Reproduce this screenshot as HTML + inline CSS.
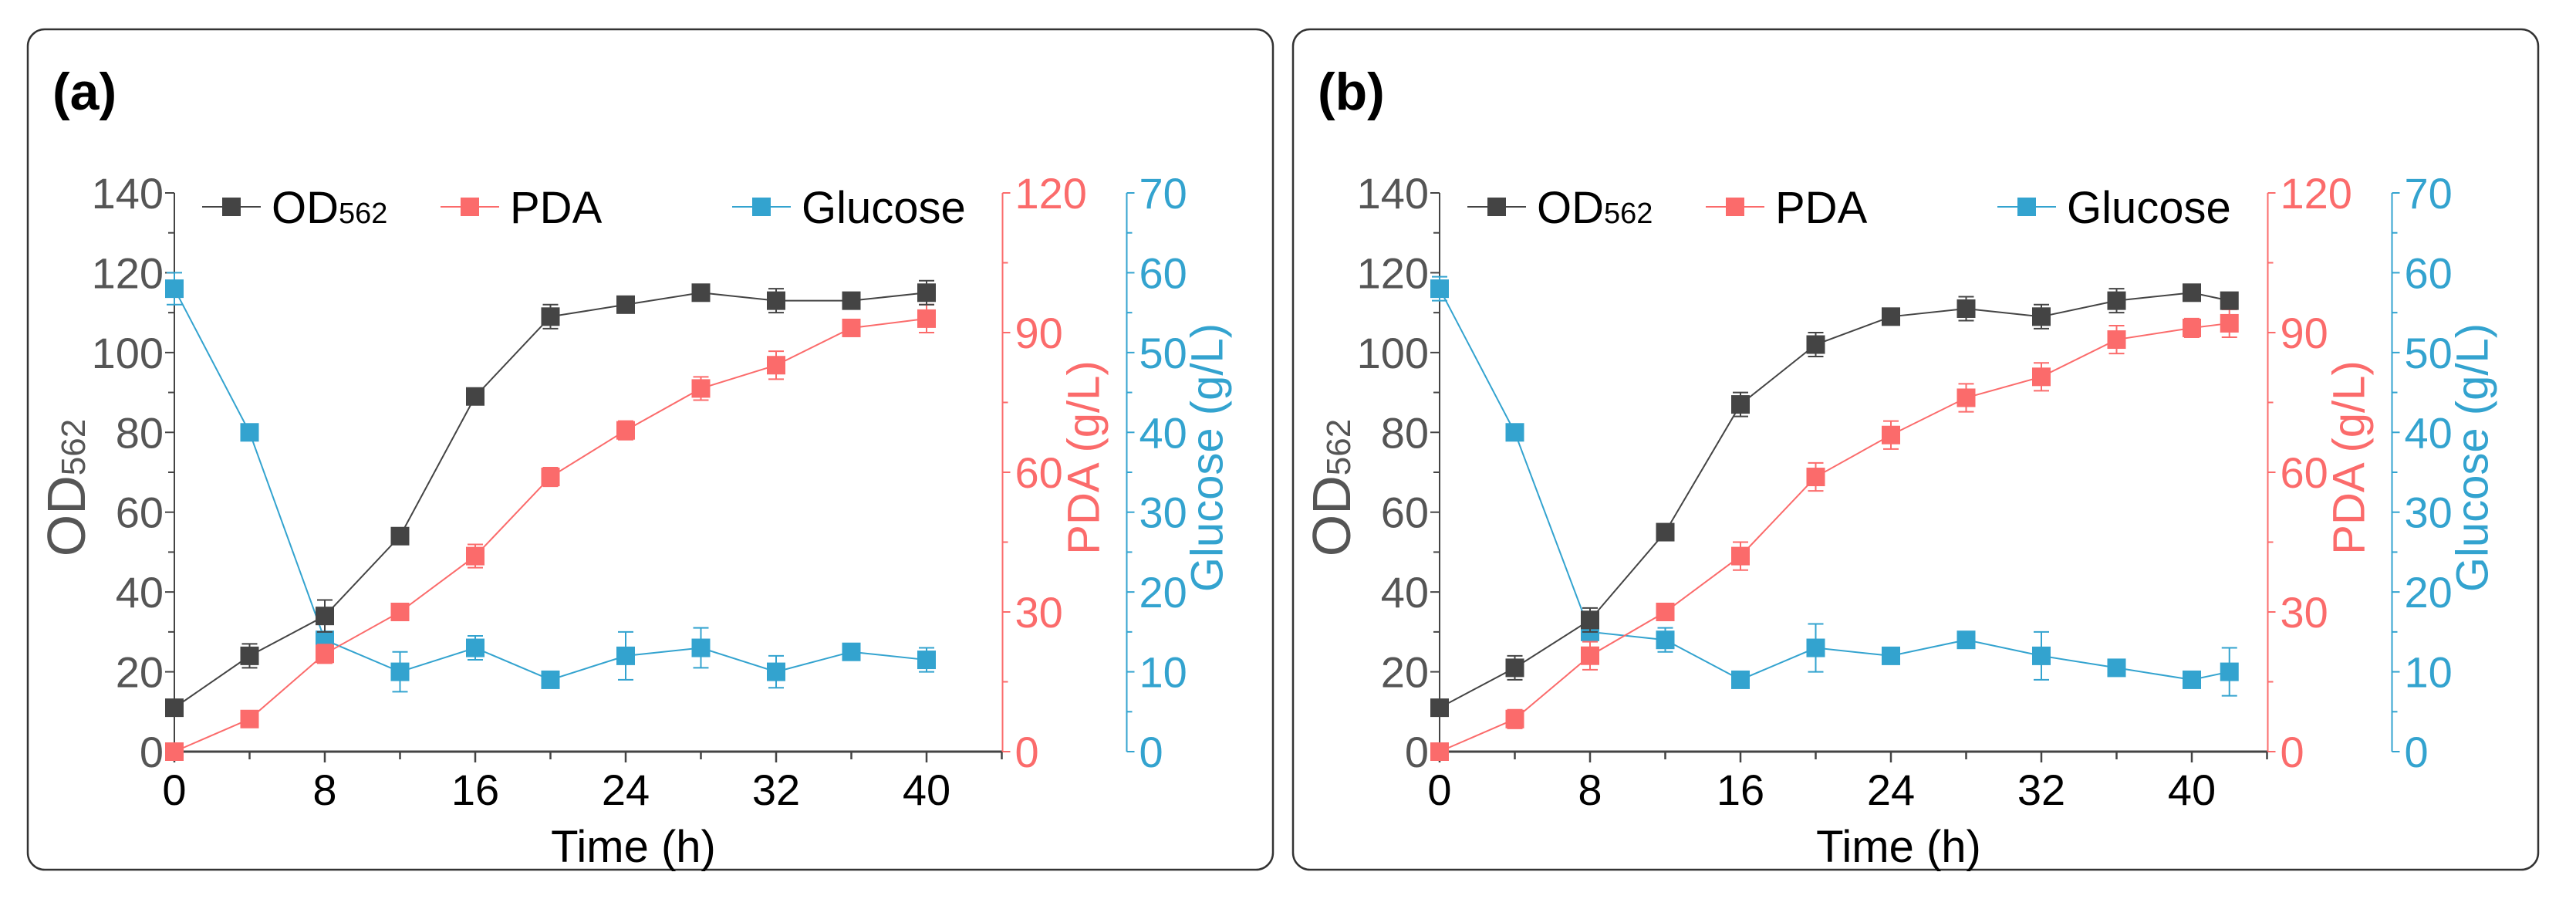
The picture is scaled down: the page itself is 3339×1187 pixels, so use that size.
<!DOCTYPE html>
<html><head><meta charset="utf-8"><style>
html,body{margin:0;padding:0;background:#fff;}
svg{display:block;font-family:"Liberation Sans",Arial,sans-serif;}
</style></head><body>
<svg id="s" width="3339" height="1187" viewBox="0 0 3339 1187" xmlns="http://www.w3.org/2000/svg"></svg>
<script>
// Panel (a) data
const timeA = [0,4,8,12,16,20,24,28,32,36,40];
const odA = [11,24,34,54,89,109,112,115,113,113,115];
const odErrA = [1,3,4,2,1,3,2,2,3,1,3];
const pdaA = [0,7,21,30,42,59,69,78,83,91,93];
const pdaErrA = [0.5,1.5,2,1.5,2.5,2,2,2.5,3,1.5,3];
const gluA = [58,40,14,10,13,9,12,13,10,12.5,11.5];
const gluErrA = [2,1,2,2.5,1.5,1,3,2.5,2,0.5,1.5];
// Panel (b) data
const timeB = [0,4,8,12,16,20,24,28,32,36,40,42];
const odB = [11,21,33,55,87,102,109,111,109,113,115,113];
const odErrB = [1,3,3,2,3,3,1,3,3,3,2,2];
const pdaB = [0,7,20.6,30,42,59,68,76,80.5,88.5,91,92];
const pdaErrB = [0.5,2,3,1.5,3,3,3,3,3,3,2,3];
const gluB = [58,40,15,14,9,13,12,14,12,10.5,9,10];
const gluErrB = [1.5,1,2,1.5,1,3,1,1,3,1,1,3];
const xTicks = [0,8,16,24,32,40];
const odTicks = [0,20,40,60,80,100,120,140];
const pdaTicks = [0,30,60,90,120];
const gluTicks = [0,10,20,30,40,50,60,70];

const NS = "http://www.w3.org/2000/svg";
const svg = document.getElementById('s');
function mk(tag, attrs, parent, text){
  const e = document.createElementNS(NS, tag);
  for (const k in attrs) e.setAttribute(k, attrs[k]);
  if (text !== undefined) e.textContent = text;
  (parent || svg).appendChild(e);
  return e;
}
const DARK="#444444", RED="#fb6b6b", BLUE="#33a3cf";
const MS = 24;

function panel(ox, label, time, od, odE, pda, pdaE, glu, gluE, name){
  const g = mk('g', {});
  
  
  const box = mk('rect', {x: ox+36, y: 38, width: 1614, height: 1089, rx: 22, fill: 'none', stroke: '#333', 'stroke-width': 2.5}, g);
  
  
  const lab = mk('text', {x: ox+68, y: 142, 'font-size': 68, 'font-weight': 'bold', fill: '#000'}, g, label);
  
  
  const x0 = ox+226, pxPerH = 195/8, y0 = 974, yTop = 250;
  const X = t => x0 + t*pxPerH;
  const xEnd = X(44);
  const Yod = v => y0 - v*(y0-yTop)/140;
  const Ypda = v => y0 - v*(y0-yTop)/120;
  const Yglu = v => y0 - v*(y0-yTop)/70;
  const pdaX = xEnd+1, gluX = xEnd+162;
  const ax = mk('g', {}, g);
  
  
  mk('line', {x1: x0, y1: y0, x2: xEnd, y2: y0, stroke: DARK, 'stroke-width': 3}, ax);
  mk('line', {x1: x0, y1: y0, x2: x0, y2: yTop, stroke: DARK, 'stroke-width': 2}, ax);
  mk('line', {x1: pdaX, y1: y0, x2: pdaX, y2: yTop, stroke: RED, 'stroke-width': 2}, ax);
  mk('line', {x1: gluX, y1: y0, x2: gluX, y2: yTop, stroke: BLUE, 'stroke-width': 2}, ax);
  for (let t=0;t<=44;t+=4){
    const major = t%8===0;
    mk('line', {x1: X(t), y1: y0, x2: X(t), y2: y0+(major?14:10), stroke: DARK, 'stroke-width': 2.5}, ax);
  }
  xTicks.forEach(t=>{
    const e = mk('text', {x: X(t), y: 1043, 'font-size': 56, 'text-anchor': 'middle', fill: '#000'}, ax, String(t));
    
    
  });
  for (let v=0; v<=140; v+=10){
    mk('line', {x1: x0, y1: Yod(v), x2: x0-(v%20===0?12:8), y2: Yod(v), stroke: DARK, 'stroke-width': 2}, ax);
  }
  odTicks.forEach(v=>{
    const e = mk('text', {x: x0-14, y: Yod(v)+20, 'font-size': 56, 'text-anchor': 'end', fill: '#555'}, ax, String(v));
    
    
  });
  for (let v=0; v<=120; v+=15){
    mk('line', {x1: pdaX, y1: Ypda(v), x2: pdaX+(v%30===0?10:7), y2: Ypda(v), stroke: RED, 'stroke-width': 2}, ax);
  }
  pdaTicks.forEach(v=>{
    const e = mk('text', {x: pdaX+16, y: Ypda(v)+20, 'font-size': 56, fill: RED}, ax, String(v));
    
    
  });
  for (let v=0; v<=70; v+=5){
    mk('line', {x1: gluX, y1: Yglu(v), x2: gluX+(v%10===0?10:7), y2: Yglu(v), stroke: BLUE, 'stroke-width': 2}, ax);
  }
  gluTicks.forEach(v=>{
    const e = mk('text', {x: gluX+16, y: Yglu(v)+20, 'font-size': 56, fill: BLUE}, ax, String(v));
    
    
  });
  const xt = mk('text', {x: X(24)+10, y: 1117, 'font-size': 58, 'text-anchor': 'middle', fill: '#000'}, g, 'Time (h)');
  
  
  const yt = mk('text', {transform: `translate(${ox+110},${632}) rotate(-90)`, 'font-size': 70, 'text-anchor': 'middle', fill: '#555'}, g);
  
  
  mk('tspan', {}, yt, 'OD');
  mk('tspan', {'font-size': 44}, yt, '562');
  const pt = mk('text', {transform: `translate(${pdaX+125},${593}) rotate(-90)`, 'font-size': 58, 'text-anchor': 'middle', fill: RED}, g, 'PDA (g/L)');
  
  
  const gt = mk('text', {transform: `translate(${gluX+124},${593}) rotate(-90)`, 'font-size': 58, 'text-anchor': 'middle', fill: BLUE}, g, 'Glucose (g/L)');
  
  
  function series(vals, errs, Y, color, nm){
    const sg = mk('g', {}, g);
    
    
    const pts = time.map((t,i)=>X(t)+','+Y(vals[i])).join(' ');
    mk('polyline', {points: pts, fill: 'none', stroke: color, 'stroke-width': 2}, sg);
    time.forEach((t,i)=>{
      const cx = X(t), top = Y(vals[i]+errs[i]), bot = Y(Math.max(0, vals[i]-errs[i]));
      mk('line', {x1: cx, y1: top, x2: cx, y2: bot, stroke: color, 'stroke-width': 2}, sg);
      mk('line', {x1: cx-10, y1: top, x2: cx+10, y2: top, stroke: color, 'stroke-width': 2}, sg);
      mk('line', {x1: cx-10, y1: bot, x2: cx+10, y2: bot, stroke: color, 'stroke-width': 2}, sg);
      const m = mk('rect', {x: cx-MS/2, y: Y(vals[i])-MS/2, width: MS, height: MS, fill: color}, sg);
      
      
    });
  }
  series(glu, gluE, Yglu, BLUE, 'glucose-series');
  series(pda, pdaE, Ypda, RED, 'pda-series');
  series(od, odE, Yod, DARK, 'od-series');
  const lg = mk('g', {}, g);
  
  
  const ly = 268;
  [[ox+300, DARK, 'OD'], [ox+609, RED, 'PDA'], [ox+987, BLUE, 'Glucose']].forEach(([lx, c, txt])=>{
    const eg = mk('g', {}, lg);
    
    
    mk('line', {x1: lx-38, y1: ly, x2: lx+38, y2: ly, stroke: c, 'stroke-width': 2}, eg);
    mk('rect', {x: lx-MS/2, y: ly-MS/2, width: MS, height: MS, fill: c}, eg);
    const t = mk('text', {x: lx+52, y: ly+21, 'font-size': 58, fill: '#000'}, eg, txt);
    if (txt==='OD') mk('tspan', {'font-size': 38}, t, '562');
  });
}
panel(0, '(a)', timeA, odA, odErrA, pdaA, pdaErrA, gluA, gluErrA, 'panel-a');
panel(1640, '(b)', timeB, odB, odErrB, pdaB, pdaErrB, gluB, gluErrB, 'panel-b');
</script>
</body></html>
